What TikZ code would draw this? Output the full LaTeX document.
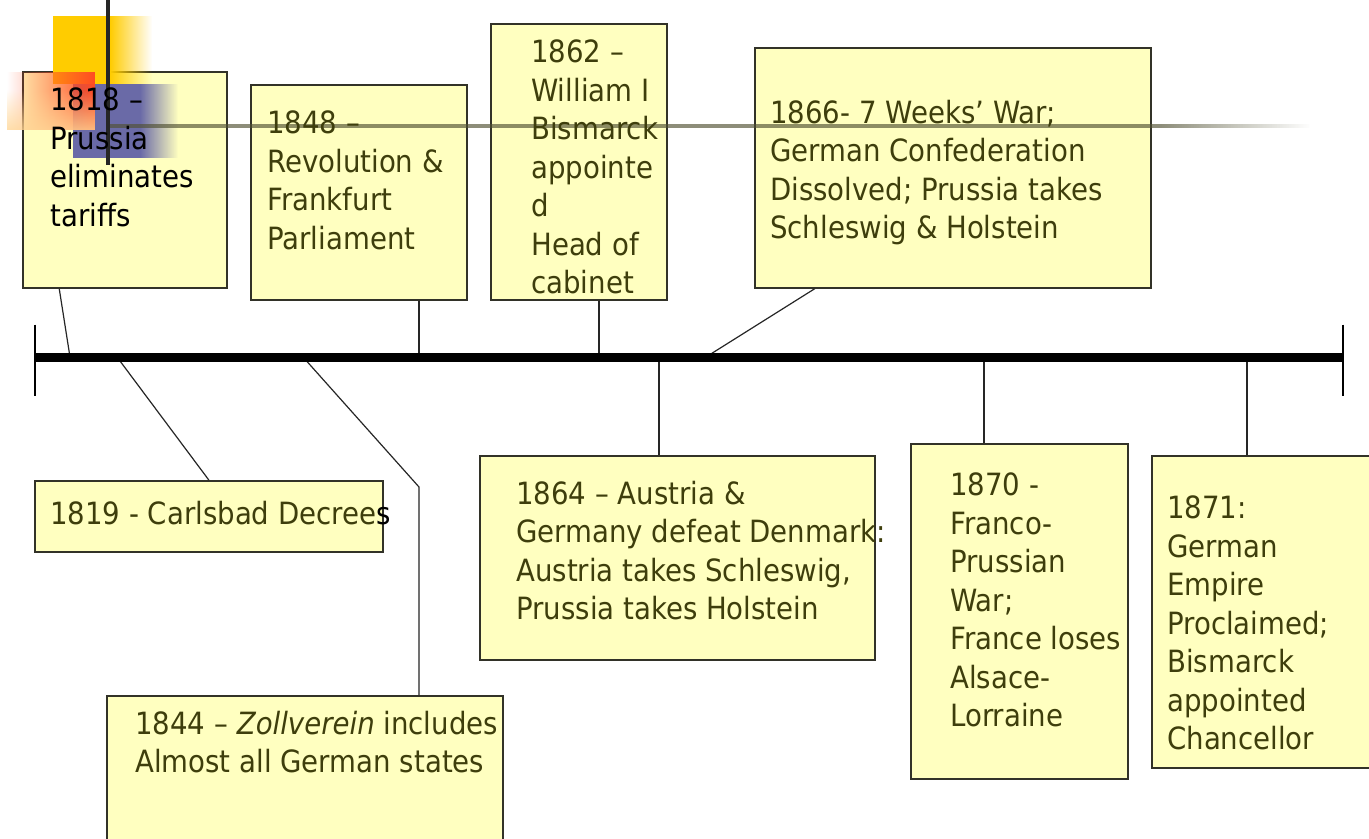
\documentclass[tikz,border=0pt]{standalone}
\usepackage{fontspec}
\setmainfont{DejaVu Sans}[FakeStretch=0.9]
\usetikzlibrary{fit,calc,fadings}
\definecolor{boxfill}{RGB}{255,255,192}
\definecolor{boxline}{RGB}{50,50,40}
\definecolor{txtc}{RGB}{62,62,12}
\definecolor{decoY}{RGB}{255,204,0}
\definecolor{decoR}{RGB}{255,75,35}
\definecolor{decoP}{RGB}{255,215,150}
\definecolor{decoB}{RGB}{90,90,165}
\definecolor{hline}{RGB}{80,80,50}
\tikzfading[name=fadeR, left color=transparent!0, right color=transparent!100]
\tikzfading[name=fadeL, left color=transparent!100, right color=transparent!0]
\tikzfading[name=fadeUp, top color=transparent!100, bottom color=transparent!0]
\begin{document}
\begin{tikzpicture}[x=0.75pt,y=-0.75pt,
  box/.style={draw=boxline, line width=1.1pt, fill=boxfill, inner sep=0pt},
  txt/.style={anchor=north west, inner sep=0pt, align=left, text=txtc,
              font=\fontsize{23}{28.9}\selectfont},
  conn/.style={draw=black!85, line width=0.9pt}]
\useasboundingbox (0,0) rectangle (1369,838);
\fill[white] (0,0) rectangle (1369,838);

% boxes
\node[box, fit={(23,72) (227,288)}] (b1818) {};
\node[box, fit={(251,85) (467,300)}] (b1848) {};
\node[box, fit={(491,24) (667,300)}] (b1862) {};
\node[box, fit={(755,48) (1151,288)}] (b1866) {};
\node[box, fit={(35,481) (383,552)}] (b1819) {};
\node[box, fit={(107,696) (503,850)}] (b1844) {};
\node[box, fit={(480,456) (875,660)}] (b1864) {};
\node[box, fit={(911,444) (1128,779)}] (b1870) {};
\node[box, fit={(1152,456) (1380,768)}] (b1871) {};

% timeline points
\coordinate (p1818) at (70,357);
\coordinate (p1819) at (117,357);
\coordinate (p1844) at (303,357);
\coordinate (e1844) at (419,487);
\coordinate (p1848) at (419,357);
\coordinate (p1862) at (599,357);
\coordinate (p1864) at (659,357);
\coordinate (p1866) at (706,357);
\coordinate (p1870) at (984,357);
\coordinate (p1871) at (1247,357);
\coordinate (tl) at (35,357.5);
\coordinate (tr) at (1343,357.5);

% connectors
\draw[conn] ($(b1818.south west)!0.18!(b1818.south east)$) -- (p1818);
\draw[conn] (p1819) -- (b1819.north);
\draw[conn] (p1844) -- (e1844) -- (e1844 |- b1844.north);
\draw[conn] (p1848 |- b1848.south) -- (p1848);
\draw[conn] (p1862 |- b1862.south) -- (p1862);
\draw[conn] ($(b1866.south west)!0.152!(b1866.south east)$) -- (p1866);
\draw[conn] (p1864) -- (p1864 |- b1864.north);
\draw[conn] (p1870) -- (p1870 |- b1870.north);
\draw[conn] (p1871) -- (p1871 |- b1871.north);

% timeline
\draw[line width=7pt] (tl) -- (tr);
\draw[line width=1.1pt] ($(tl)+(0,-33)$) -- ($(tl)+(0,38)$);
\draw[line width=1.1pt] ($(tr)+(0,-33)$) -- ($(tr)+(0,38)$);

% decoration
\fill[decoY] (53,16) rectangle (110,84);
\fill[decoY, path fading=fadeR] (110,16) rectangle (152,84);
\fill[decoB, opacity=0.9] (73,84) rectangle (140,158);
\fill[decoB, opacity=0.9, path fading=fadeR] (140,84) rectangle (178,158);
\fill[decoR, path fading=fadeL] (7,72) rectangle (95,130);
\fill[decoP, opacity=0.8, path fading=fadeUp] (7,90) rectangle (95,130);
\fill[hline, opacity=0.65] (108,124.5) rectangle (1160,128.5);
\fill[hline, opacity=0.65, path fading=fadeR] (1160,124.5) rectangle (1310,128.5);
\draw[black!85, line width=2.3pt] (108,0) -- (108,165);

% texts
\node[txt, text=black] (t1818) at (50,87.6) {1818 –\\Prussia\\eliminates\\tariffs};
\node[txt] (t1848) at (267,110.6) {1848 –\\Revolution \&\\Frankfurt\\Parliament};
\node[txt] (t1862) at (531,39.6) {1862 –\\William I\\Bismarck\\appointe\\d\\Head of\\cabinet};
\node[txt] (t1866) at (770,99.6) {1866- 7 Weeks’ War;\\German Confederation\\Dissolved; Prussia takes\\Schleswig \& Holstein};
\node[txt] (t1819) at (50,500.6) {1819 - Carlsbad Decree\textcolor{black}{s}};
\node[txt] (t1844) at (135,710.6) {1844 – \textit{Zollverein} includes\\Almost all German states};
\node[txt] (t1864) at (516,480.6) {1864 – Austria \&\\Germany defeat Denmark:\\Austria takes Schleswig,\\Prussia takes Holstein};
\node[txt] (t1870) at (950,472.6) {1870 -\\Franco-\\Prussian\\War;\\France loses\\Alsace-\\Lorraine};
\node[txt] (t1871) at (1167,495.6) {1871:\\German\\Empire\\Proclaimed;\\Bismarck\\appointed\\Chancellor};
\end{tikzpicture}
\end{document}
